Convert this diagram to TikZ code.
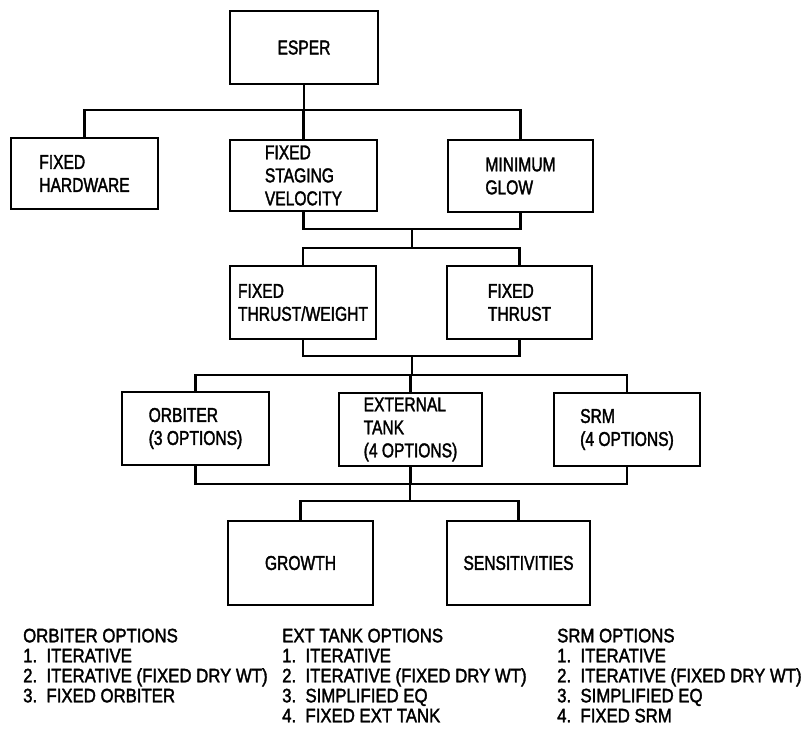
\documentclass[tikz,border=0pt]{standalone}
\usepackage{fontspec}
\setmainfont[FakeStretch=0.78,FakeBold=1.8]{Liberation Sans}
\newfontfamily\legfont[FakeStretch=0.86,FakeBold=1.8]{Liberation Sans}
\begin{document}
\begin{tikzpicture}[x=1pt,y=-1pt,
  box/.style={draw, line width=1.3pt, inner sep=0pt, align=left,
    font=\fontsize{20}{23}\selectfont},
  conn/.style={line width=2.8pt, line cap=rect},
  legend/.style={anchor=north west, inner sep=0pt, align=left,
    font=\legfont\fontsize{19.5}{20}\selectfont}]
\useasboundingbox (0,0) rectangle (807,733);

% boxes
\node[box, minimum width=148pt, minimum height=73pt] (esper) at (304,47.5) {ESPER};
\node[box, minimum width=147pt, minimum height=71pt] (fh) at (84.5,173.5) {FIXED\\HARDWARE};
\node[box, minimum width=147pt, minimum height=71pt] (fsv) at (303.5,175.5) {FIXED\\STAGING\\VELOCITY};
\node[box, minimum width=145pt, minimum height=72pt] (mg) at (520.5,176) {MINIMUM\\GLOW};
\node[box, minimum width=146pt, minimum height=73pt] (ftw) at (303,302.5) {FIXED\\THRUST/WEIGHT};
\node[box, minimum width=145pt, minimum height=73pt] (ft) at (519.5,302.5) {FIXED\\THRUST};
\node[box, minimum width=147pt, minimum height=73pt] (orb) at (195.5,428.5) {ORBITER\\(3 OPTIONS)};
\node[box, minimum width=143pt, minimum height=73pt] (et) at (410.5,429.5) {EXTERNAL\\TANK\\(4 OPTIONS)};
\node[box, minimum width=146pt, minimum height=73pt] (srm) at (627,429.5) {SRM\\(4 OPTIONS)};
\node[box, minimum width=145pt, minimum height=84pt] (gro) at (300.5,563) {GROWTH};
\node[box, minimum width=143pt, minimum height=84pt] (sen) at (518.5,563) {SENSITIVITIES};

% bus coordinates
\coordinate (b1) at (304,110);
\coordinate (j1) at (412,229);
\coordinate (j2) at (412,248);
\coordinate (j3) at (412,356);
\coordinate (j4) at (412,375);
\coordinate (j5) at (410,484);
\coordinate (j6) at (410,501);

% connectors
\draw[conn] (esper.south) -- (esper.south |- b1);
\draw[conn] (fh.north) -- (fh.north |- b1) -- (mg.north |- b1) -- (mg.north);
\draw[conn] (fsv.north) -- (fsv.north |- b1);

\draw[conn] (fsv.south) -- (fsv.south |- j1) -- (mg.south |- j1) -- (mg.south);
\draw[conn] (j1) -- (j2);
\draw[conn] (ftw.north) -- (ftw.north |- j2) -- (ft.north |- j2) -- (ft.north);

\draw[conn] (ftw.south) -- (ftw.south |- j3) -- (ft.south |- j3) -- (ft.south);
\draw[conn] (j3) -- (j4);
\draw[conn] (orb.north) -- (orb.north |- j4) -- (srm.north |- j4) -- (srm.north);
\draw[conn] (et.north) -- (et.north |- j4);

\draw[conn] (orb.south) -- (orb.south |- j5) -- (srm.south |- j5) -- (srm.south);
\draw[conn] (et.south) -- (et.south |- j5);
\draw[conn] (j5) -- (j6);
\draw[conn] (gro.north) -- (gro.north |- j6) -- (sen.north |- j6) -- (sen.north);

% legend
\node[legend] (lo) at (23,628.5) {ORBITER OPTIONS\\1.\ \ ITERATIVE\\2.\ \ ITERATIVE (FIXED DRY WT)\\3.\ \ FIXED ORBITER};
\node[legend] (le) at (282,628.5) {EXT TANK OPTIONS\\1.\ \ ITERATIVE\\2.\ \ ITERATIVE (FIXED DRY WT)\\3.\ \ SIMPLIFIED EQ\\4.\ \ FIXED EXT TANK};
\node[legend] (ls) at (557,628.5) {SRM OPTIONS\\1.\ \ ITERATIVE\\2.\ \ ITERATIVE (FIXED DRY WT)\\3.\ \ SIMPLIFIED EQ\\4.\ \ FIXED SRM};
\end{tikzpicture}
\end{document}
